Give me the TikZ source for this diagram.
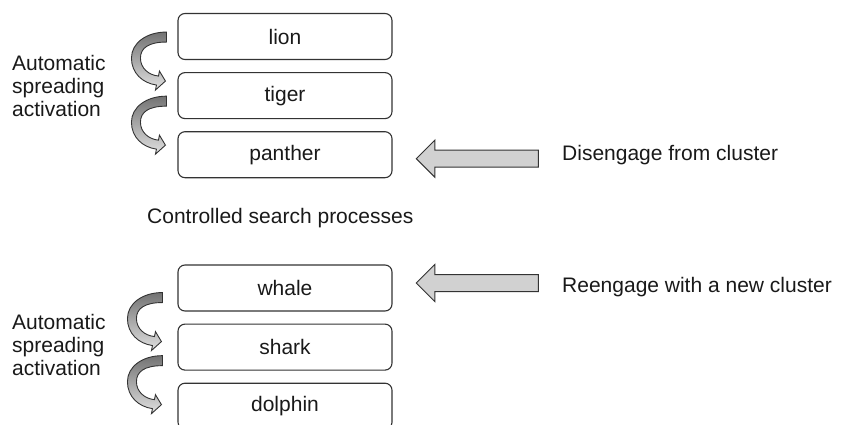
\documentclass[tikz,border=0pt]{standalone}
\usepackage{fontspec}
\setmainfont{Liberation Sans}
\usetikzlibrary{positioning,shapes.arrows,calc}

% curved arrow at the left of a box (node, shift)
\newcommand{\spreadarrow}[2]{%
  \begin{scope}[shift={($(#1.south west)+(#2)$)}]
    \path[spread] (-11,28) .. controls (-31,28) and (-46,17) .. (-46,2)
      .. controls (-46,-13) and (-35,-23) .. (-21,-25) -- (-22,-30) -- (-12,-21)
      -- (-18,-11) -- (-19,-16) .. controls (-29,-15) and (-37,-8) .. (-37,2)
      .. controls (-37,12) and (-29,18) .. (-11,18) -- cycle;
  \end{scope}}

\begin{document}
\begin{tikzpicture}[x=1pt,y=1pt,node distance=12pt,
	every node/.style={text=black!90,font=\fontsize{21}{23}\selectfont},
	animal/.style={draw=black!80,line width=1.1pt,rounded corners=7pt,minimum width=214pt,minimum height=46pt,inner sep=0pt},
	label/.style={inner sep=0pt,anchor=west,align=left},
	push/.style={single arrow,draw=black!80,fill=black!18,line width=1pt,minimum height=122pt,inner sep=8pt,single arrow head extend=10pt,shape border rotate=180,anchor=tip},
	spread/.style={draw=black!80,line width=0.9pt,top color=black!55,bottom color=black!12}]
	\useasboundingbox (0,0) rectangle (845,-425);
	\clip (0,0) rectangle (845,-425);

	\node[animal] (lion) at (285,-36.5) {lion};
	\node[animal] (tiger) [below=of lion] {tiger};
	\node[animal] (panther) [below=of tiger] {panther};
	\node[animal] (whale) at (285,-288) {whale};
	\node[animal] (shark) [below=of whale] {shark};
	\node[animal] (dolphin) [below=of shark] {dolphin};

	\node[label] (autoA) at (12,-86) {Automatic\\spreading\\activation};
	\node[label] (autoB) at (12,-345) {Automatic\\spreading\\activation};
	\node[label] (search) at (147,-218) {Controlled search processes};
	\node[label] (disengage) at (562,-155) {Disengage from cluster};
	\node[label] (reengage) at (562,-287) {Reengage with a new cluster};

	\node[push] (pushA) at ([xshift=23pt,yshift=-4pt]panther.east) {};
	\node[push] (pushB) at ([xshift=23pt,yshift=5pt]whale.east) {};

	\spreadarrow{lion}{0,0}
	\spreadarrow{tiger}{0,-5}
	\spreadarrow{whale}{-4,-9}
	\spreadarrow{shark}{-4,-13}
\end{tikzpicture}
\end{document}
